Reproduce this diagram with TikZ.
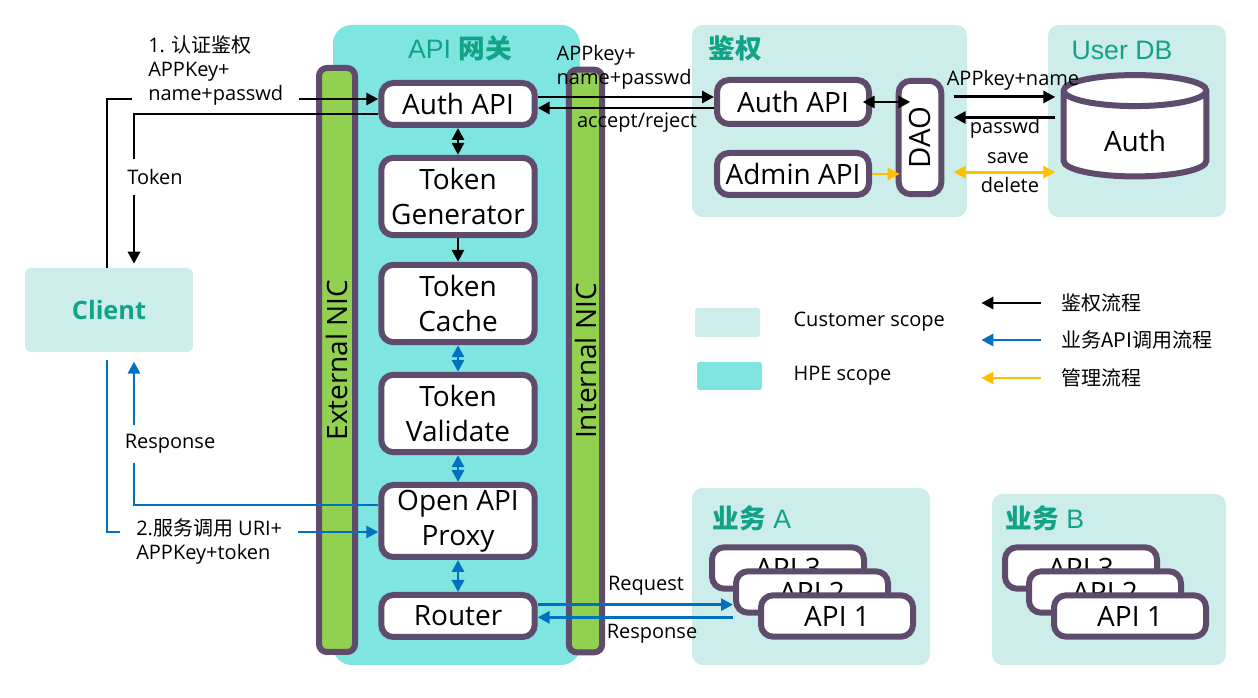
\documentclass[tikz,border=0pt]{standalone}
\usepackage{fontspec}
\setmainfont{Open Sans}
\newfontfamily\cjk{Noto Sans CJK SC}
\newfontfamily\titlefont{Liberation Sans}
\usetikzlibrary{arrows.meta,shapes.geometric,calc}

\definecolor{hpecyan}{HTML}{7FE5E0}
\definecolor{custgreen}{HTML}{CCEDEA}
\definecolor{nicgreen}{HTML}{92D050}
\definecolor{frame}{HTML}{5F4B6B}
\definecolor{titleteal}{HTML}{12A386}
\definecolor{flowblue}{HTML}{0070C0}
\definecolor{floworange}{HTML}{FFC000}

\begin{document}
\begin{tikzpicture}[x=0.75pt,y=-0.75pt,
    >={Triangle[length=9pt,width=9pt]},
    box/.style={draw=frame, fill=white, line width=4.5pt, rounded corners=9pt,
        inner sep=0pt, align=center, font=\fontsize{21}{26}\selectfont},
    nic/.style={draw=frame, fill=nicgreen, line width=4.5pt, rounded corners=6pt,
        inner sep=0pt, font=\fontsize{21}{26}\selectfont},
    ztitle/.style={text=titleteal, inner sep=0pt, font=\titlefont\fontsize{20}{22}\selectfont},
    lbl/.style={inner sep=1pt, align=left, font=\fontsize{15}{18}\selectfont},
    mask/.style={lbl, fill=white},
    authflow/.style={line width=2.2pt, black},
    bizflow/.style={line width=2.2pt, flowblue},
    mgmtflow/.style={line width=2.2pt, floworange}]
    \def \gw{115pt} % largeur des boites de la passerelle
    \def \gx{458}

    \useasboundingbox (0,0) rectangle (1258,698);

    % zones
    \fill[hpecyan, rounded corners=14pt] (333,25) rectangle (580,665);
    \fill[custgreen, rounded corners=8pt] (692,25) rectangle (967,217);
    \fill[custgreen, rounded corners=8pt] (1048,25) rectangle (1226,217);
    \fill[custgreen, rounded corners=8pt] (692,488) rectangle (930,665);
    \fill[custgreen, rounded corners=8pt] (992,494) rectangle (1226,665);
    \node[ztitle] (tgw) at (460,48) {API {\cjk\bfseries 网关}};
    \node[ztitle] (tauth) at (735,48) {\cjk\bfseries 鉴权};
    \node[ztitle] (tdb) at (1122,50) {User DB};
    \node[ztitle] (tbiza) at (752,518) {{\cjk\bfseries 业务} A};
    \node[ztitle] (tbizb) at (1045,518) {{\cjk\bfseries 业务} B};

    % cartes reseau
    \node[nic, rotate=90, minimum width=438pt, minimum height=27pt] (extnic) at (337,360) {External NIC};
    \node[nic, rotate=90, minimum width=437pt, minimum height=25pt] (intnic) at (585.5,361) {Internal NIC};

    % passerelle
    \node[box, minimum width=\gw, minimum height=31.5pt] (gauth) at (\gx,104) {Auth API};
    \node[box, minimum width=\gw, minimum height=58pt] (tgen) at (\gx,196.5) {Token\\Generator};
    \node[box, minimum width=\gw, minimum height=58pt] (tcache) at (\gx,303.5) {Token\\Cache};
    \node[box, minimum width=\gw, minimum height=58pt] (tval) at (\gx,413.5) {Token\\Validate};
    \node[box, minimum width=\gw, minimum height=54pt] (proxy) at (\gx,521) {Open API\\Proxy};
    \node[box, minimum width=\gw, minimum height=31.5pt] (router) at (\gx,616) {Router};

    \draw[authflow,<->] (gauth) -- (tgen);
    \draw[authflow,->] (tgen) -- (tcache);
    \draw[bizflow,<->] (tcache) -- (tval);
    \draw[bizflow,<->] (tval) -- (proxy);
    \draw[bizflow,<->] (proxy) -- (router);

    % client
    \node[fill=custgreen, rounded corners=4pt, minimum width=126pt, minimum height=63pt,
        text=titleteal, font=\fontsize{19}{22}\selectfont\bfseries] (client) at (109,310) {Client};
    \coordinate (k1) at (107,99);
    \coordinate (k2) at (134,114);
    \coordinate (k3) at (107,532);
    \coordinate (k4) at (134,505);
    \draw[authflow,->] (client.north -| k1) -- (k1) -- (k1 -| gauth.west);
    \node[mask, anchor=west, inner xsep=12pt] (l1) at (132,71) {1. {\cjk 认证鉴权}\\APPKey+\\name+passwd};
    \draw[authflow,->,shorten >=3pt] (gauth.west |- k2) -- (k2) -- (k2 |- client.north);
    \node[mask, inner ysep=8pt] (ltoken) at (155,177) {Token};
    \draw[bizflow,->,shorten <=6pt] (client.south -| k3) -- (k3) -- (k3 -| proxy.west);
    \node[mask, anchor=west, inner xsep=12pt] (l2) at (120,541) {2.{\cjk 服务调用} URI+\\APPKey+token};
    \draw[bizflow,->,shorten >=7pt] (proxy.west |- k4) -- (k4) -- (k4 |- client.south);
    \node[mask, inner ysep=7pt] (lresp) at (170,444) {Response};

    % authentification
    \node[box, minimum width=114pt, minimum height=33pt] (aauth) at (793,102) {Auth API};
    \node[box, minimum width=114pt, minimum height=31.5pt] (admin) at (793,174) {Admin API};
    \node[box, rotate=90, minimum width=85pt, minimum height=32pt, font=\fontsize{22}{26}\selectfont] (dao) at (920,137.5) {DAO};
    \node[cylinder, shape border rotate=90, aspect=0.5, draw=frame, fill=white, line width=4.5pt,
        minimum width=107pt, minimum height=76pt, inner sep=0pt, text height=25pt, text depth=0pt,
        font=\fontsize{21}{26}\selectfont] (dbauth) at (1135,135) {Auth};

    % dao.north = cote gauche, dao.south = cote droit (noeud tourne)
    \draw[authflow,->] ([yshift=5.25pt]gauth.east) -- ([yshift=5.25pt]gauth.east -| aauth.west);
    \draw[authflow,->] ([yshift=-4.5pt]aauth.west) -- ([yshift=-4.5pt]aauth.west -| gauth.east);
    \node[lbl, anchor=west] (lkey) at (555,67) {APPkey+\\name+passwd};
    \node[lbl] (lacc) at (637,123) {accept/reject};
    \draw[authflow,<->,shorten <=-7pt,shorten >=-11pt] (aauth.east) -- (aauth.east -| dao.north);
    \draw[mgmtflow,->,shorten >=-3pt] (admin.east) -- (admin.east -| dao.north);
    \draw[authflow,->,shorten <=7pt,shorten >=4pt] ([yshift=30.4pt]dao.south) -- ([yshift=30.4pt]dao.south -| dbauth.west);
    \draw[authflow,->,shorten <=4pt,shorten >=7pt] ([yshift=15pt]dao.south -| dbauth.west) -- ([yshift=15pt]dao.south);
    \draw[mgmtflow,<->,shorten <=7pt,shorten >=4pt] ([yshift=-26pt]dao.south) -- ([yshift=-26pt]dao.south -| dbauth.west);
    \node[lbl] (lappn) at (1013,80) {APPkey+name};
    \node[lbl] (lpwd) at (1005,128) {passwd};
    \node[lbl] (lsave) at (1008,158) {save};
    \node[lbl] (ldel) at (1010,185) {delete};

    % services metier
    \foreach \z/\x in {a/788, b/1081}
    \foreach \i/\dx/\dy in {3/0/0, 2/24/24, 1/49/48}
    \node[box, minimum width=114pt, minimum height=31pt] (api\z\i) at (\x+\dx,568+\dy) {API \i};

    \draw[bizflow,->] ([yshift=8.5pt]router.east) -- ([yshift=8.5pt]router.east -| apia2.west);
    \draw[bizflow,->] ([yshift=-1pt]router.east -| apia2.west) -- ([yshift=-1pt]router.east);
    \node[lbl] (lreq) at (646,586) {Request};
    \node[lbl] (lres) at (652,634) {Response};

    % legende
    \fill[custgreen, rounded corners=2pt] (695,308) rectangle (760,337);
    \fill[hpecyan, rounded corners=2pt] (697,362) rectangle (762,390);
    \node[lbl, anchor=west] (lcust) at (792,322) {Customer scope};
    \node[lbl, anchor=west] (lhpe) at (792,376) {HPE scope};
    \foreach \n/\yy/\col/\txt in {k/303/authflow/鉴权流程, b/340/bizflow/业务API调用流程, m/378/mgmtflow/管理流程}{
        \node[lbl, anchor=west, font=\cjk\fontsize{15}{18}\selectfont] (leg\n) at (1060,\yy) {\txt};
        \draw[\col,<-] ([xshift=-59pt]leg\n.west) -- ([xshift=-14pt]leg\n.west);
    }
\end{tikzpicture}
\end{document}
